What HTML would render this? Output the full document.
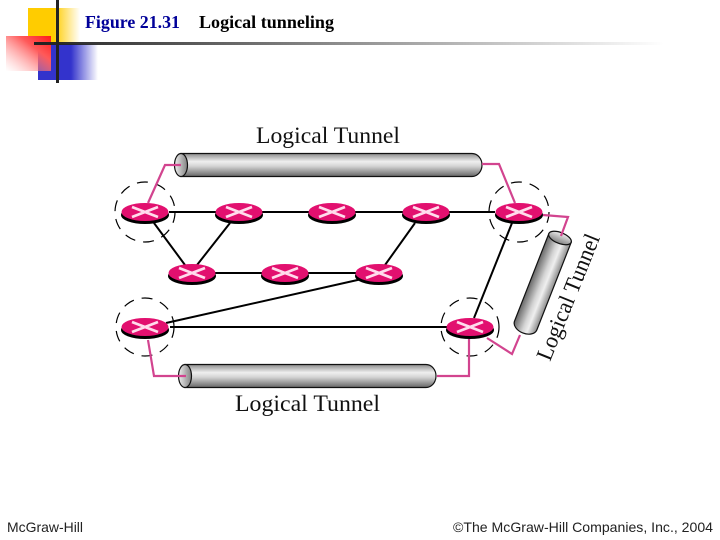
<!DOCTYPE html>
<html><head><meta charset="utf-8"><style>
html,body{margin:0;padding:0;background:#fff}
svg{display:block}
</style></head><body>
<svg width="720" height="540" viewBox="0 0 720 540" xmlns="http://www.w3.org/2000/svg">
<defs>
<linearGradient id="y" x1="0" x2="1" y1="0" y2="0"><stop offset="0" stop-color="#ffcc00"/><stop offset=".5" stop-color="#ffcc00"/><stop offset="1" stop-color="#ffcc00" stop-opacity="0"/></linearGradient>
<linearGradient id="b" x1="0" x2="1" y1="0" y2="0"><stop offset="0" stop-color="#3333cc"/><stop offset=".55" stop-color="#3333cc"/><stop offset="1" stop-color="#3333cc" stop-opacity="0"/></linearGradient>
<linearGradient id="r" x1="1" x2="0" y1="0" y2="1"><stop offset="0" stop-color="#ff1a1a"/><stop offset=".35" stop-color="#ff5a5a"/><stop offset="1" stop-color="#ffaaaa" stop-opacity="0"/></linearGradient>
<linearGradient id="h" x1="0" x2="1" y1="0" y2="0"><stop offset="0" stop-color="#222"/><stop offset="1" stop-color="#222" stop-opacity="0"/></linearGradient>
<linearGradient id="c" x1="0" x2="0" y1="0" y2="1"><stop offset="0" stop-color="#8c8c8c"/><stop offset=".35" stop-color="#efefef"/><stop offset=".55" stop-color="#d4d4d4"/><stop offset="1" stop-color="#666"/></linearGradient>
<linearGradient id="cap" x1="0" x2="1" y1="0" y2="0"><stop offset="0" stop-color="#eee"/><stop offset="1" stop-color="#808080"/></linearGradient>
<g id="rt">
<ellipse cx="0" cy="3" rx="24" ry="9" fill="#000"/>
<ellipse cx="0" cy="0" rx="23.500" ry="9" fill="#e2106f"/>
<path d="M-13-5 13 5M-13 5 13-5" stroke="#ffdcec" stroke-width="2.800"/>
</g>
</defs>

<!-- header decoration -->
<rect x="28" y="8" width="52" height="36" fill="url(#y)"/>
<rect x="38" y="44" width="60" height="36" fill="url(#b)"/>
<rect x="6" y="36" width="45" height="35" fill="url(#r)"/>
<rect x="34" y="42" width="630" height="3" fill="url(#h)"/>
<rect x="56" y="0" width="3" height="83" fill="#222"/>

<text x="85" y="28" font-family="'Liberation Serif',serif" font-size="18" font-weight="bold" fill="#000099" textLength="95" lengthAdjust="spacingAndGlyphs">Figure 21.31</text>
<text x="199" y="28" font-family="'Liberation Serif',serif" font-size="18" font-weight="bold" fill="#000" textLength="135" lengthAdjust="spacingAndGlyphs">Logical tunneling</text>

<!-- black links -->
<g stroke="#000" stroke-width="2" fill="none">
<path d="M169 212H495"/>
<path d="M154 223 185 265M230 223 197 265M415 223 385 265"/>
<path d="M215 273H356"/>
<path d="M166 323 362 279"/>
<path d="M170 327H447"/>
<path d="M512 223 474 318"/>
</g>

<!-- dashed circles -->
<g stroke="#000" stroke-width="1.200" fill="none" stroke-dasharray="11 8">
<circle cx="145" cy="212" r="30"/>
<circle cx="519" cy="212" r="30"/>
<circle cx="145" cy="327" r="29"/>
<circle cx="470" cy="327" r="29"/>
</g>

<!-- tunnels -->
<g stroke="#111" stroke-width="1.200">
<path d="M181 153.500H472a10 11.500 0 0 1 10 11.500v0a10 11.500 0 0 1-10 11.500H181Z" fill="url(#c)"/>
<ellipse cx="181" cy="165" rx="6.500" ry="11.500" fill="url(#cap)"/>
<path d="M185 364.500H426a10 11.500 0 0 1 10 11.500v0a10 11.500 0 0 1-10 11.500H185Z" fill="url(#c)"/>
<ellipse cx="185" cy="376" rx="6.500" ry="11.500" fill="url(#cap)"/>
<g transform="translate(560 238) rotate(111.400)">
<path d="M0-12H94a8 12 0 0 1 8 12v0a8 12 0 0 1-8 12H0Z" fill="url(#c)"/>
<ellipse cx="0" cy="0" rx="5.500" ry="12" fill="url(#cap)"/>
</g>
</g>

<!-- routers -->
<use href="#rt" x="145" y="212"/>
<use href="#rt" x="239" y="212"/>
<use href="#rt" x="332" y="212"/>
<use href="#rt" x="426" y="212"/>
<use href="#rt" x="519" y="212"/>
<use href="#rt" x="192" y="273"/>
<use href="#rt" x="285" y="273"/>
<use href="#rt" x="379" y="273"/>
<use href="#rt" x="145" y="327"/>
<use href="#rt" x="470" y="327"/>

<!-- pink links -->
<g stroke="#d2448f" stroke-width="2.200" fill="none">
<path d="M148 203 165 165H181"/>
<path d="M482 164H499L515 203"/>
<path d="M543 215 568 217 561 236"/>
<path d="M148 340 154 376H186"/>
<path d="M437 376H469V339"/>
<path d="M487 338 512 354 520 335"/>
</g>

<!-- labels -->
<g font-family="'Liberation Serif',serif" font-size="23" fill="#111">
<text x="256" y="143" textLength="144" lengthAdjust="spacingAndGlyphs">Logical Tunnel</text>
<text x="235" y="411" textLength="145" lengthAdjust="spacingAndGlyphs">Logical Tunnel</text>
<text transform="translate(550 362) rotate(-68)" textLength="134" lengthAdjust="spacingAndGlyphs">Logical Tunnel</text>
</g>

<!-- footer -->
<text x="7" y="532" font-family="'Liberation Sans',sans-serif" font-size="14" fill="#222" textLength="76" lengthAdjust="spacingAndGlyphs">McGraw-Hill</text>
<text x="453" y="532" font-family="'Liberation Sans',sans-serif" font-size="14" fill="#222" textLength="260" lengthAdjust="spacingAndGlyphs">©The McGraw-Hill Companies, Inc., 2004</text>
</svg>
</body></html>
